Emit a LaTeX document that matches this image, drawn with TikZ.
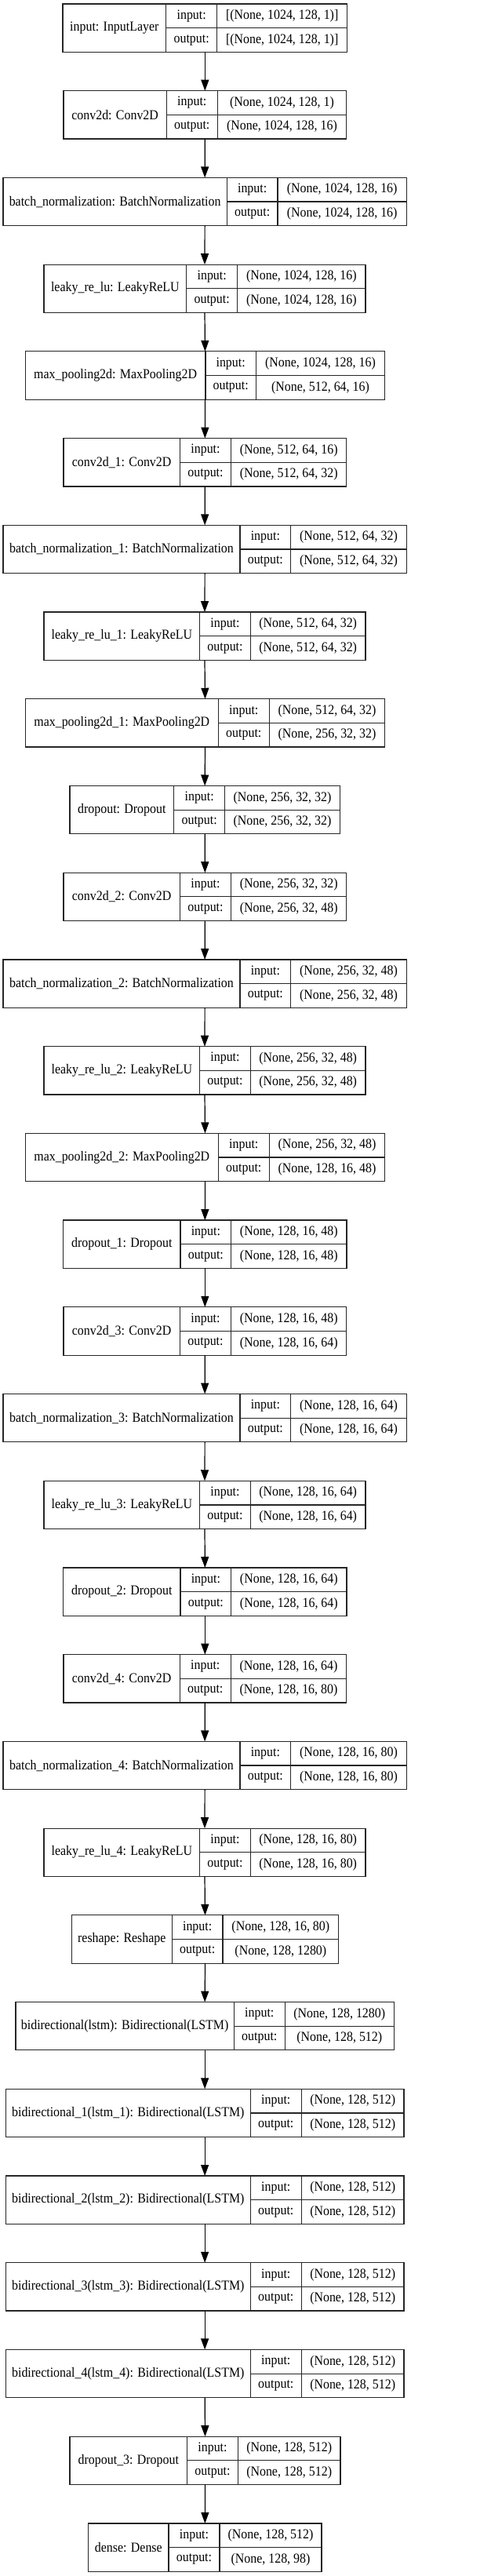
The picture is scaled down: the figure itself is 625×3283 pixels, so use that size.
\documentclass[tikz,border=0pt]{standalone}
\usepackage{fontspec}
\setmainfont{Liberation Serif}
\usepackage{graphicx}
\usetikzlibrary{arrows.meta,fit}
\newcommand\T[1]{\scalebox{0.91}[1]{#1}}
\tikzset{
  cell/.style={draw=black!85, line width=1.2pt, inner sep=0pt, outer sep=0pt},
  txt/.style={inner sep=0pt, outer sep=0pt, anchor=center, font=\fontsize{17.5}{20}\selectfont},
  conn/.style={draw=black, line width=1.2pt, -{Triangle[length=14pt,width=10pt]}}
}
\newcommand\layer[9]{%
  \pgfmathsetmacro\ya{5+110.72*#2}%
  \pgfmathsetmacro\yb{\ya+61.3}%
  \pgfmathsetmacro\ym{\ya+30.65}%
  \node[cell, fit={(#3,\ya) (#4,\yb)}] (#1l) {};
  \node[cell, fit={(#4,\ya) (#5,\ym)}] (#1i) {};
  \node[cell, fit={(#4,\ym) (#5,\yb)}] (#1o) {};
  \node[cell, fit={(#5,\ya) (#6,\ym)}] (#1a) {};
  \node[cell, fit={(#5,\ym) (#6,\yb)}] (#1b) {};
  \node[txt] (#1lt) at (#1l.center) {\T{#7}};
  \node[txt] (#1it) at (#1i.center) {\T{input:}};
  \node[txt] (#1ot) at (#1o.center) {\T{output:}};
  \node[txt] (#1at) at (#1a.center) {\T{#8}};
  \node[txt] (#1bt) at (#1b.center) {\T{#9}};
  \node[inner sep=0pt, outer sep=0pt, fit={(#3,\ya) (#6,\yb)}] (#1) {};
}
\begin{document}
\begin{tikzpicture}[x=1pt,y=-1pt]
\fill[white] (0,0) rectangle (625,3283);
\useasboundingbox (0,0) rectangle (625,3283);
\layer{L1}{0}{80}{211.7}{276.7}{442.7}{input: InputLayer}{[(None, 1024, 128, 1)]}{[(None, 1024, 128, 1)]}
\layer{L2}{1}{81}{212.3}{277.3}{441.7}{conv2d: Conv2D}{(None, 1024, 128, 1)}{(None, 1024, 128, 16)}
\layer{L3}{2}{4}{289.3}{354}{518.3}{batch\_normalization: BatchNormalization}{(None, 1024, 128, 16)}{(None, 1024, 128, 16)}
\layer{L4}{3}{56}{237.7}{302.7}{466}{leaky\_re\_lu: LeakyReLU}{(None, 1024, 128, 16)}{(None, 1024, 128, 16)}
\layer{L5}{4}{32.3}{262}{326.3}{490.7}{max\_pooling2d: MaxPooling2D}{(None, 1024, 128, 16)}{(None, 512, 64, 16)}
\layer{L6}{5}{81}{229.3}{294.7}{441.7}{conv2d\_1: Conv2D}{(None, 512, 64, 16)}{(None, 512, 64, 32)}
\layer{L7}{6}{4}{306}{370.7}{518.3}{batch\_normalization\_1: BatchNormalization}{(None, 512, 64, 32)}{(None, 512, 64, 32)}
\layer{L8}{7}{56}{254.7}{319.3}{466}{leaky\_re\_lu\_1: LeakyReLU}{(None, 512, 64, 32)}{(None, 512, 64, 32)}
\layer{L9}{8}{32.3}{278.3}{343.3}{490.7}{max\_pooling2d\_1: MaxPooling2D}{(None, 512, 64, 32)}{(None, 256, 32, 32)}
\layer{L10}{9}{89}{221.7}{286.7}{433.3}{dropout: Dropout}{(None, 256, 32, 32)}{(None, 256, 32, 32)}
\layer{L11}{10}{81}{229.3}{294.7}{441.7}{conv2d\_2: Conv2D}{(None, 256, 32, 32)}{(None, 256, 32, 48)}
\layer{L12}{11}{4}{306}{370.7}{518.3}{batch\_normalization\_2: BatchNormalization}{(None, 256, 32, 48)}{(None, 256, 32, 48)}
\layer{L13}{12}{56}{254.7}{319.3}{466}{leaky\_re\_lu\_2: LeakyReLU}{(None, 256, 32, 48)}{(None, 256, 32, 48)}
\layer{L14}{13}{32.3}{278.3}{343.3}{490.7}{max\_pooling2d\_2: MaxPooling2D}{(None, 256, 32, 48)}{(None, 128, 16, 48)}
\layer{L15}{14}{80.7}{230}{294.7}{442}{dropout\_1: Dropout}{(None, 128, 16, 48)}{(None, 128, 16, 48)}
\layer{L16}{15}{81}{229.3}{294.7}{441.7}{conv2d\_3: Conv2D}{(None, 128, 16, 48)}{(None, 128, 16, 64)}
\layer{L17}{16}{4}{306}{370.7}{518.3}{batch\_normalization\_3: BatchNormalization}{(None, 128, 16, 64)}{(None, 128, 16, 64)}
\layer{L18}{17}{56}{254.7}{319.3}{466}{leaky\_re\_lu\_3: LeakyReLU}{(None, 128, 16, 64)}{(None, 128, 16, 64)}
\layer{L19}{18}{80.7}{230}{294.7}{442}{dropout\_2: Dropout}{(None, 128, 16, 64)}{(None, 128, 16, 64)}
\layer{L20}{19}{81}{229.3}{294.3}{441.7}{conv2d\_4: Conv2D}{(None, 128, 16, 64)}{(None, 128, 16, 80)}
\layer{L21}{20}{4}{306}{370.7}{518.3}{batch\_normalization\_4: BatchNormalization}{(None, 128, 16, 80)}{(None, 128, 16, 80)}
\layer{L22}{21}{56}{254.7}{319.3}{466}{leaky\_re\_lu\_4: LeakyReLU}{(None, 128, 16, 80)}{(None, 128, 16, 80)}
\layer{L23}{22}{91.3}{219.3}{284}{431.7}{reshape: Reshape}{(None, 128, 16, 80)}{(None, 128, 1280)}
\layer{L24}{23}{20}{298.3}{363.3}{502.3}{bidirectional(lstm): Bidirectional(LSTM)}{(None, 128, 1280)}{(None, 128, 512)}
\layer{L25}{24}{7.3}{319.3}{384.3}{515}{bidirectional\_1(lstm\_1): Bidirectional(LSTM)}{(None, 128, 512)}{(None, 128, 512)}
\layer{L26}{25}{7.3}{319.3}{384.3}{515}{bidirectional\_2(lstm\_2): Bidirectional(LSTM)}{(None, 128, 512)}{(None, 128, 512)}
\layer{L27}{26}{7.3}{319.3}{384.3}{515}{bidirectional\_3(lstm\_3): Bidirectional(LSTM)}{(None, 128, 512)}{(None, 128, 512)}
\layer{L28}{27}{7.3}{319.3}{384.3}{515}{bidirectional\_4(lstm\_4): Bidirectional(LSTM)}{(None, 128, 512)}{(None, 128, 512)}
\layer{L29}{28}{89}{238.7}{303.3}{434}{dropout\_3: Dropout}{(None, 128, 512)}{(None, 128, 512)}
\layer{L30}{29}{112.7}{215}{280}{410}{dense: Dense}{(None, 128, 512)}{(None, 128, 98)}
\foreach \a/\b in {L1/L2,L2/L3,L3/L4,L4/L5,L5/L6,L6/L7,L7/L8,L8/L9,L9/L10,L10/L11,L11/L12,L12/L13,L13/L14,L14/L15,L15/L16,L16/L17,L17/L18,L18/L19,L19/L20,L20/L21,L21/L22,L22/L23,L23/L24,L24/L25,L25/L26,L26/L27,L27/L28,L28/L29,L29/L30}
  \draw[conn] (\a.south) -- (\b.north);
\end{tikzpicture}
\end{document}
